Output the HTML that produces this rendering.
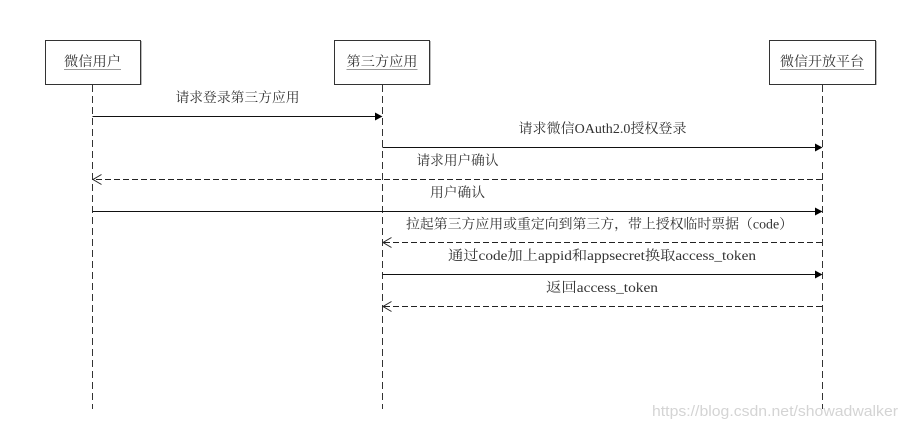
<!DOCTYPE html>
<html>
<head>
<meta charset="utf-8">
<style>
html,body{margin:0;padding:0;background:#fff;}
svg{display:block;}
.t{font-family:"Liberation Serif","Noto Serif CJK SC",serif;font-size:13.8px;fill:#333;}
.wm{font-family:"Liberation Sans",sans-serif;font-size:15px;fill:#d4d4d4;}
</style>
</head>
<body>
<svg width="910" height="431" viewBox="0 0 910 431" xmlns="http://www.w3.org/2000/svg">
<rect x="0" y="0" width="910" height="431" fill="#fff"/>

<!-- boxes -->
<rect x="45.5" y="40.5" width="95" height="44" fill="#fff" stroke="#333" stroke-width="1"/>
<line x1="141.5" y1="41" x2="141.5" y2="85" stroke="#bbb"/>
<rect x="334.5" y="40.5" width="95" height="44" fill="#fff" stroke="#333" stroke-width="1"/>
<line x1="430.5" y1="41" x2="430.5" y2="85" stroke="#bbb"/>
<rect x="769.5" y="40.5" width="106" height="44" fill="#fff" stroke="#333" stroke-width="1"/>
<line x1="876.5" y1="41" x2="876.5" y2="85" stroke="#bbb"/>

<!-- box titles -->
<text class="t" x="92.5" y="66" text-anchor="middle" textLength="57" lengthAdjust="spacingAndGlyphs">微信用户</text>
<line x1="64" y1="69.5" x2="121" y2="69.5" stroke="#999"/>
<text class="t" x="382" y="66" text-anchor="middle" textLength="71" lengthAdjust="spacingAndGlyphs">第三方应用</text>
<line x1="346.5" y1="69.5" x2="417.5" y2="69.5" stroke="#999"/>
<text class="t" x="822" y="66" text-anchor="middle" textLength="84" lengthAdjust="spacingAndGlyphs">微信开放平台</text>
<line x1="780" y1="69.5" x2="864" y2="69.5" stroke="#999"/>

<!-- lifelines -->
<g stroke="#333" stroke-width="1" stroke-dasharray="7 4">
<line x1="92.5" y1="85" x2="92.5" y2="409"/>
<line x1="382.5" y1="85" x2="382.5" y2="409"/>
<line x1="822.5" y1="85" x2="822.5" y2="409"/>
</g>

<!-- messages -->
<g stroke="#111" stroke-width="1" fill="none">
<line x1="92.5" y1="116.5" x2="376" y2="116.5"/>
<line x1="382.5" y1="147.5" x2="816" y2="147.5"/>
<line x1="92.5" y1="211.5" x2="816" y2="211.5"/>
<line x1="382.5" y1="274.5" x2="816" y2="274.5"/>
</g>
<g stroke="#222" stroke-width="1" fill="none" stroke-dasharray="6 3">
<line x1="822" y1="179.5" x2="93" y2="179.5"/>
<line x1="822" y1="242.5" x2="383" y2="242.5"/>
<line x1="822" y1="306.5" x2="383" y2="306.5"/>
</g>

<!-- filled arrowheads -->
<g fill="#000">
<polygon points="382.5,116.5 375,112.5 375,120.5"/>
<polygon points="822.5,147.5 815,143.5 815,151.5"/>
<polygon points="822.5,211.5 815,207.5 815,215.5"/>
<polygon points="822.5,274.5 815,270.5 815,278.5"/>
</g>
<!-- open arrowheads -->
<g stroke="#222" stroke-width="1" fill="none">
<polyline points="101.5,174.5 93,179.5 101.5,184.5"/>
<polyline points="391.5,237.5 383,242.5 391.5,247.5"/>
<polyline points="391.5,301.5 383,306.5 391.5,311.5"/>
</g>

<!-- labels -->
<text class="t" x="237.5" y="102" text-anchor="middle" textLength="124" lengthAdjust="spacingAndGlyphs">请求登录第三方应用</text>
<text class="t" x="602.5" y="133" text-anchor="middle" textLength="168" lengthAdjust="spacingAndGlyphs">请求微信OAuth2.0授权登录</text>
<text class="t" x="457.5" y="165" text-anchor="middle" textLength="82" lengthAdjust="spacingAndGlyphs">请求用户确认</text>
<text class="t" x="457.5" y="197" text-anchor="middle" textLength="55" lengthAdjust="spacingAndGlyphs">用户确认</text>
<text class="t" x="599.5" y="228.5" text-anchor="middle" textLength="387" lengthAdjust="spacingAndGlyphs">拉起第三方应用或重定向到第三方，带上授权临时票据（code）</text>
<text class="t" x="602" y="260" text-anchor="middle" textLength="308" lengthAdjust="spacingAndGlyphs">通过code加上appid和appsecret换取access_token</text>
<text class="t" x="602" y="292" text-anchor="middle" textLength="112" lengthAdjust="spacingAndGlyphs">返回access_token</text>

<!-- watermark -->
<text class="wm" x="898" y="416" text-anchor="end" textLength="246" lengthAdjust="spacingAndGlyphs">https://blog.csdn.net/showadwalker</text>
</svg>
</body>
</html>
